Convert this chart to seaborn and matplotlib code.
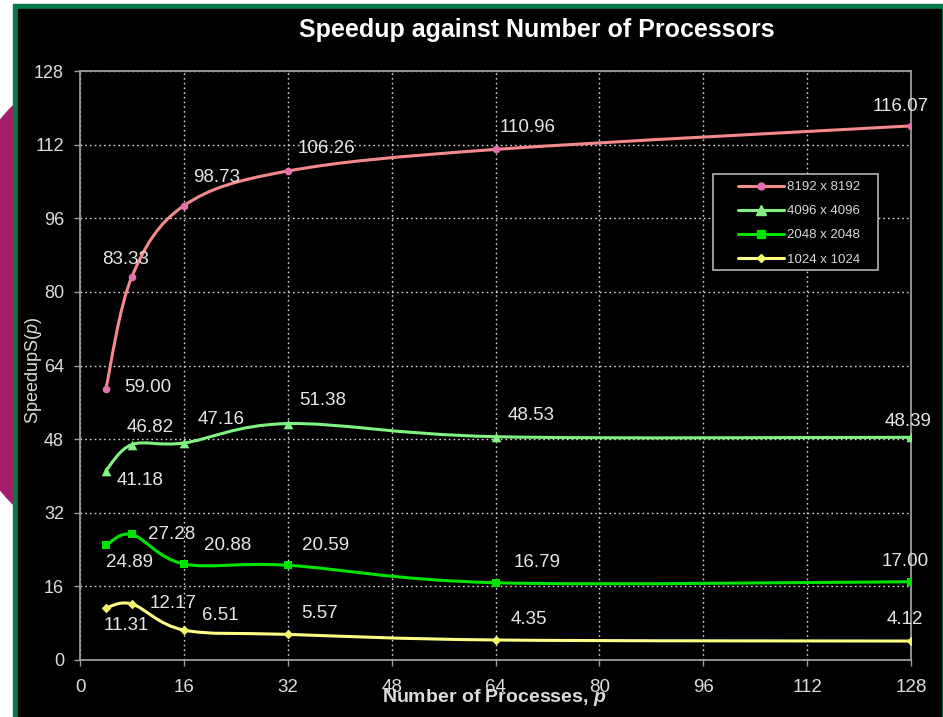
import numpy as np
import pandas as pd
import matplotlib
matplotlib.use("Agg")
import matplotlib.pyplot as plt
import seaborn as sns
from matplotlib.path import Path
from matplotlib.patches import PathPatch, Rectangle, Ellipse
from matplotlib.lines import Line2D
from matplotlib import font_manager

# ---- data -------------------------------------------------------------
processes = [4, 8, 16, 32, 64, 128]
speedup_8192 = [59.00, 83.33, 98.73, 106.26, 110.96, 116.07]
speedup_4096 = [41.18, 46.82, 47.16, 51.38, 48.53, 48.39]
speedup_2048 = [24.89, 27.28, 20.88, 20.59, 16.79, 17.00]
speedup_1024 = [11.31, 12.17, 6.51, 5.57, 4.35, 4.12]
series_names = ["8192 x 8192", "4096 x 4096", "2048 x 2048", "1024 x 1024"]
axis_ticks = [0, 16, 32, 48, 64, 80, 96, 112, 128]

series_values = [speedup_8192, speedup_4096, speedup_2048, speedup_1024]

# ---- styling ----------------------------------------------------------
line_colors = ["#f48a8c", "#82f282", "#00e400", "#ffff86"]
marker_colors = ["#e66fb0", "#82f282", "#00e400", "#f6f66a"]
marker_shapes = ["o", "^", "s", "D"]
marker_sizes = [30, 48, 40, 24]
legend_msizes = [5, 6.5, 6, 4.5]

# value-label offsets (pixels, relative to each point)
label_offsets = [
    [(42, 1), (-6, 17), (33, 28), (39, 23), (32, 22), (-10, 19)],
    [(34, -10), (18, 17), (37, 23), (35, 23), (36, 21), (-3, 16)],
    [(24, -17), (40, 0), (44, 18), (38, 20), (42, 20), (-6, 20)],
    [(20, -18), (41, 0), (36, 15), (32, 21), (33, 20), (-6, 22)],
]

sns.set_style("dark")
installed = {f.name for f in font_manager.fontManager.ttflist}
narrow = "Liberation Sans Narrow" if "Liberation Sans Narrow" in installed else "Liberation Sans"
plt.rcParams["font.family"] = ["Liberation Sans", "DejaVu Sans"]
plt.rcParams["mathtext.fontset"] = "custom"
plt.rcParams["mathtext.rm"] = "Liberation Sans"
plt.rcParams["mathtext.it"] = "Liberation Sans:italic"
plt.rcParams["mathtext.bf"] = f"{narrow}:bold"
plt.rcParams["mathtext.bfit"] = f"{narrow}:italic:bold"

W, H = 943, 717
fig = plt.figure(figsize=(W / 100, H / 100), dpi=100, facecolor="white")


def fx(x):
    return x / W


def fy(y):
    return 1 - y / H


# slide backdrop: magenta shape, green frame, black chart panel
fig.patches.append(Ellipse((fx(60), fy(305)), 220 / W, 440 / H,
                           transform=fig.transFigure, color="#a51c6a", zorder=-3))
fig.patches.append(Rectangle((fx(13), 0), fx(943) - fx(13), fy(4),
                             transform=fig.transFigure, color="#077a4c", zorder=-2))
fig.patches.append(Rectangle((fx(18), 0), fx(940.5) - fx(18), fy(9),
                             transform=fig.transFigure, color="black", zorder=-1))

ax_left, ax_right, ax_top, ax_bottom = 80, 911, 71, 660
ax = fig.add_axes([fx(ax_left), fy(ax_bottom), (ax_right - ax_left) / W, (ax_bottom - ax_top) / H])
ax.set_facecolor("black")


def smooth_path(xs, ys):
    """Bezier path through the points, Excel-style smoothed line."""
    pts = np.column_stack([xs, ys]).astype(float)
    n = len(pts)
    verts = [pts[0]]
    codes = [Path.MOVETO]
    for i in range(n - 1):
        p0 = pts[i - 1] if i > 0 else pts[i]
        p1 = pts[i]
        p2 = pts[i + 1]
        p3 = pts[i + 2] if i + 2 < n else pts[i + 1]
        c1 = p1 + (p2 - p0) / 6.0
        c2 = p2 - (p3 - p1) / 6.0
        verts += [c1, c2, p2]
        codes += [Path.CURVE4] * 3
    return Path(verts, codes)


for vals, lc, mc, mk, ms, offs in zip(series_values, line_colors, marker_colors,
                                      marker_shapes, marker_sizes, label_offsets):
    ax.add_patch(PathPatch(smooth_path(processes, vals), facecolor="none",
                           edgecolor=lc, lw=2.2, zorder=3, capstyle="round"))
    df = pd.DataFrame({"p": processes, "speedup": vals})
    sns.scatterplot(data=df, x="p", y="speedup", ax=ax, color=mc, marker=mk,
                    s=ms, linewidth=0, zorder=4, legend=False)
    for xv, yv, (dx, dy) in zip(processes, vals, offs):
        ax.annotate(f"{yv:.2f}", xy=(xv, yv), xytext=(dx, dy),
                    textcoords="offset pixels", ha="center", va="center",
                    fontsize=13.5, color="#e6e6e6", zorder=5)

ax.set_xlim(0, 128)
ax.set_ylim(0, 128)
ax.set_xticks(axis_ticks)
ax.set_yticks(axis_ticks)
ax.set_xlabel("")
ax.set_ylabel("")
ax.grid(True, color="#d4d4d4", linestyle=(0, (1.2, 2.2)), linewidth=1.0)
for s in ax.spines.values():
    s.set_color("#9c9c9c")
    s.set_linewidth(1.3)
    s.set_visible(True)
ax.tick_params(axis="y", direction="out", length=4.5, width=1, color="#9c9c9c",
               labelsize=13, labelcolor="#dcdcdc", pad=7, left=True)
ax.tick_params(axis="x", direction="out", length=4, width=1, color="#9c9c9c",
               labelsize=13.5, labelcolor="#dcdcdc", pad=10, bottom=True)
for lab in ax.get_xticklabels():
    lab.set_fontfamily(narrow)

# legend with black box
x0 = (713 - ax_left) / (ax_right - ax_left)
x1 = (878 - ax_left) / (ax_right - ax_left)
y0 = (ax_bottom - 270) / (ax_bottom - ax_top)
y1 = (ax_bottom - 174) / (ax_bottom - ax_top)
ax.add_patch(Rectangle((x0, y0), x1 - x0, y1 - y0, transform=ax.transAxes,
                       facecolor="black", edgecolor="#b4b4b4", lw=1.2, zorder=6))
handles = [Line2D([], [], color=lc, lw=2.2, marker=mk, markersize=ms,
                  markerfacecolor=mc, markeredgecolor=mc)
           for lc, mc, mk, ms in zip(line_colors, marker_colors, marker_shapes, legend_msizes)]
leg = ax.legend(handles, series_names, loc="upper left",
                bbox_to_anchor=(fx(738), fy(181)), bbox_transform=fig.transFigure,
                frameon=False, fontsize=9.5, labelcolor="#d8d8d8",
                handlelength=3.45, handletextpad=0.25, labelspacing=0.9,
                borderpad=0, borderaxespad=0)
leg.set_zorder(7)

fig.text(fx(537), fy(30), "Speedup against Number of Processors", ha="center",
         va="center", fontsize=18, fontweight="bold", color="white")
fig.text(fx(33), fy(371), r"SpeedupS($\mathit{p}$)", rotation=90, ha="center",
         va="center", fontsize=13, color="#dcdcdc")
fig.text(fx(494), fy(698), r"Number of Processes, $\mathbfit{p}$", ha="center",
         va="center", fontsize=14, fontweight="bold", color="#dcdcdc", family=narrow)

fig.savefig("out.png", dpi=100, facecolor=fig.get_facecolor())
